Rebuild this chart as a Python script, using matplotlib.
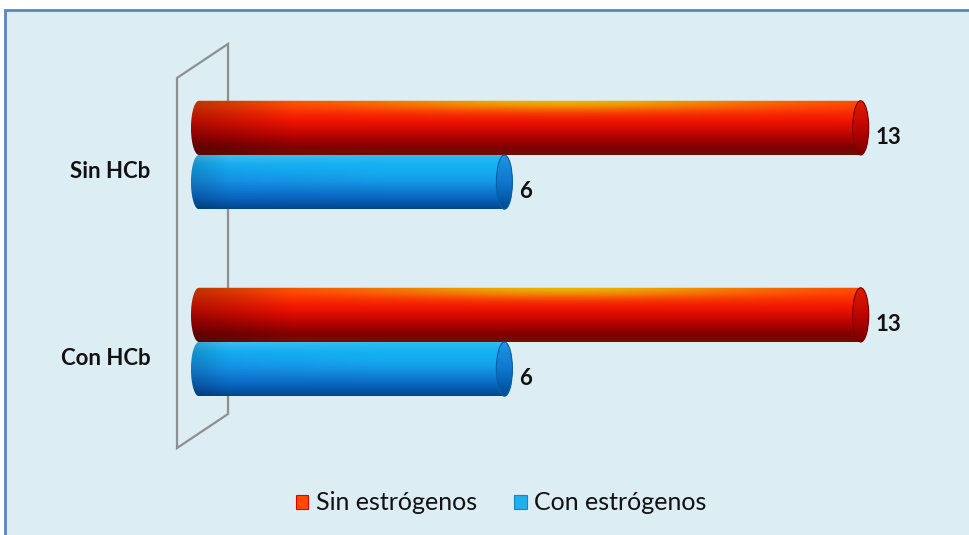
import numpy as np
import matplotlib.pyplot as plt
from matplotlib.patches import Rectangle, Ellipse, Polygon, Patch

# datos (de abajo hacia arriba)
categorias = ['Con HCb', 'Sin HCb']
sin_estrogenos = [13, 13]
con_estrogenos = [6, 6]
series = ['Sin estrógenos', 'Con estrógenos']

plt.rcParams['font.family'] = ['Lato', 'DejaVu Sans']

fig = plt.figure(figsize=(9.69, 5.35), dpi=100)
fig.patch.set_facecolor('white')
# marco de fondo
fig.add_artist(Rectangle((5/969, -0.05), 1.0, 1.05 - 10/535,
                         transform=fig.transFigure, fc='#DCEDF4',
                         ec='#5A85C4', lw=2, zorder=0))

ax = fig.add_axes([0, 0, 1, 1])
ax.axis('off')
ax.patch.set_visible(False)

esc = 50.9      # px por unidad en x
h = 0.29        # alto de cada cilindro
a = 0.158       # semieje de la tapa eliptica


def rampa(stops, n):
    v = np.linspace(0, 1, n)
    pos = [s[0] for s in stops]
    return np.stack([np.interp(v, pos, [s[1][k] for s in stops]) for k in range(3)], axis=1) / 255


def textura(tipo, nv=120, nu=300):
    u = np.linspace(0, 1, nu)
    v = np.linspace(0, 1, nv)
    if tipo == 'rojo':
        base = rampa([(0, (250, 70, 0)), (0.12, (255, 55, 0)), (0.38, (240, 20, 0)),
                      (0.62, (190, 5, 0)), (0.85, (130, 0, 0)), (1, (110, 15, 0))], nv)
        luz = np.array([235, 180, 0]) / 255
        hl = np.exp(-((u - 0.55) / 0.3) ** 2)
        w = np.exp(-(v / 0.18) ** 2)[:, None] * hl[None, :]
        img = base[:, None, :] * (1 - w[..., None]) + luz * w[..., None]
        # extremo izquierdo mas oscuro
        osc = 0.75 + 0.25 * np.clip(u / 0.15, 0, 1)
        img = img * osc[None, :, None]
    else:
        base = rampa([(0, (70, 190, 240)), (0.2, (20, 170, 240)), (0.5, (20, 140, 225)),
                      (0.8, (10, 100, 190)), (1, (0, 70, 140))], nv)
        luz = np.array([20, 185, 245]) / 255
        hl = np.clip(u / 0.6, 0, 1)
        w = 0.5 * np.exp(-((v - 0.25) / 0.3) ** 2)[:, None] * hl[None, :]
        img = base[:, None, :] * (1 - w[..., None]) + luz * w[..., None]
        osc = 0.85 + 0.15 * np.clip(u / 0.12, 0, 1)
        img = img * osc[None, :, None]
    return np.clip(img, 0, 1)


def tapa(tipo, nv=80):
    if tipo == 'rojo':
        c = rampa([(0, (225, 30, 0)), (0.5, (190, 5, 0)), (1, (120, 0, 0))], nv)
    else:
        c = rampa([(0, (30, 150, 225)), (0.5, (15, 120, 205)), (1, (0, 75, 150))], nv)
    return np.repeat(c[:, None, :], 4, axis=1)


def cilindro(x1, yc, tipo, z):
    b = h / 2
    t1 = np.linspace(np.pi / 2, 3 * np.pi / 2, 60)
    t2 = np.linspace(-np.pi / 2, np.pi / 2, 60)
    xs = np.r_[a * np.cos(t1), x1 + a * np.cos(t2)]
    ys = np.r_[yc + b * np.sin(t1), yc + b * np.sin(t2)]
    cuerpo = Polygon(np.c_[xs, ys], closed=True, fc='none', ec='none')
    ax.add_patch(cuerpo)
    im = ax.imshow(textura(tipo), extent=(-a, x1 + a, yc - b, yc + b), aspect='auto',
                   interpolation='bilinear', origin='upper', zorder=z)
    im.set_clip_path(cuerpo)
    borde = '#7a0000' if tipo == 'rojo' else '#0a5fa8'
    cara = Ellipse((x1, yc), 2 * a, 2 * b, fc='none', ec=borde, lw=0.8, zorder=z + 0.2)
    ax.add_patch(cara)
    im2 = ax.imshow(tapa(tipo), extent=(x1 - a, x1 + a, yc - b, yc + b), aspect='auto',
                    interpolation='bilinear', origin='upper', zorder=z + 0.1)
    im2.set_clip_path(cara)


# pared del fondo
pared = Polygon([(-0.432, -0.567), (-0.432, 1.412), (0.57, 1.594), (0.57, -0.385)],
                closed=True, fc='none', ec='#8f8f8f', lw=1.6, zorder=1)
ax.add_patch(pared)

y = np.arange(len(categorias))
for i in range(len(categorias)):
    yr = y[i] + h / 2
    yb = y[i] - h / 2
    cilindro(sin_estrogenos[i], yr, 'rojo', 3)
    cilindro(con_estrogenos[i], yb, 'azul', 4)
    ax.text(sin_estrogenos[i] + a + 0.14, yr - 0.05, str(sin_estrogenos[i]),
            ha='left', va='center', fontsize=16, fontweight='bold', color='#111111')
    ax.text(con_estrogenos[i] + a + 0.14, yb - 0.05, str(con_estrogenos[i]),
            ha='left', va='center', fontsize=16, fontweight='bold', color='#111111')
    ax.text(-0.96, y[i] - 0.09, categorias[i], ha='right', va='center',
            fontsize=16, fontweight='bold', color='#111111')

ax.set_xlim(-199 / esc, (969 - 199) / esc)
ax.set_ylim(-(535 - 342) / 187, 342 / 187)

handles = [Patch(fc='#FF4A00', ec='#E00000', lw=0.8),
           Patch(fc='#22AEEA', ec='#1288D0', lw=0.8)]
fig.legend(handles, series, loc='center', bbox_to_anchor=(501 / 969, 1 - 503 / 535),
           ncol=2, frameon=False, fontsize=18, handlelength=0.5, handleheight=0.5,
           handletextpad=0.3, columnspacing=1.5, labelcolor='#111111')

fig.savefig('out.png', dpi=100)
